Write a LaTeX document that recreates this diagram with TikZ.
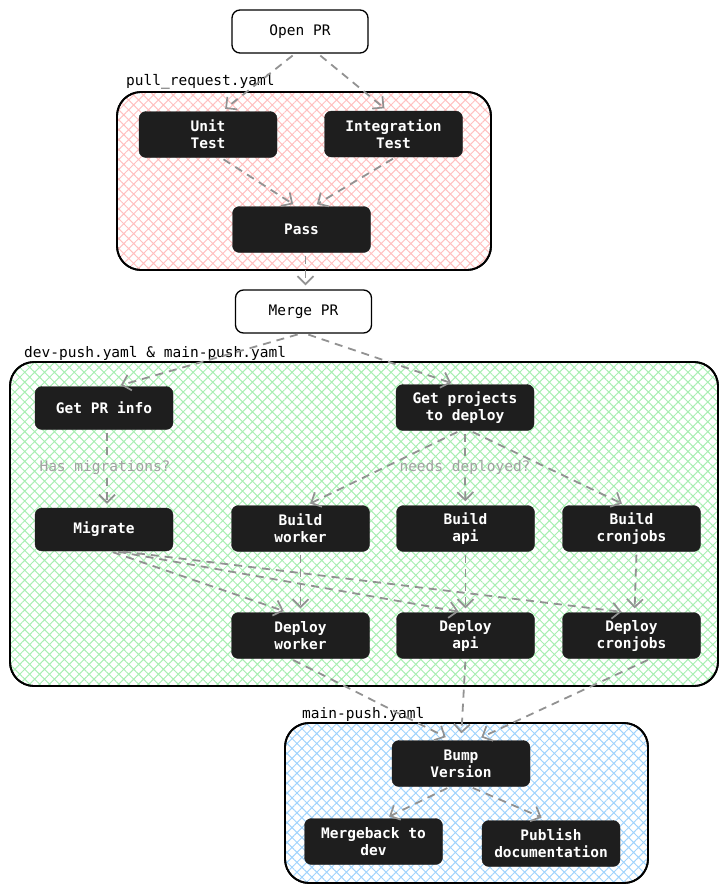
\documentclass[tikz,border=0pt]{standalone}
\usepackage{fontspec}
\setmonofont{DejaVu Sans Mono}
\usetikzlibrary{arrows.meta,patterns.meta}
\definecolor{nodebg}{HTML}{1E1E1E}
\definecolor{arrowc}{HTML}{929292}
\definecolor{pinkh}{HTML}{FFC0C0}
\definecolor{greenh}{HTML}{A8EEB2}
\definecolor{blueh}{HTML}{A0D3FC}
\tikzset{
  darkbox/.style={fill=nodebg, draw=nodebg, rounded corners=7pt, text=white,
    font=\ttfamily\bfseries\fontsize{14.5}{17}\selectfont, minimum width=138pt,
    minimum height=46pt, align=center, inner sep=0pt},
  lightbox/.style={fill=white, draw=black, line width=1.3pt, rounded corners=8pt,
    minimum width=136pt, minimum height=43pt, inner sep=0pt,
    font=\ttfamily\fontsize{14.5}{17}\selectfont},
  group/.style={draw=black, line width=1.8pt, rounded corners=24pt},
  hatch/.style={pattern={Hatch[angle=45,distance=7pt,line width=1pt]}},
  flow/.style={draw=arrowc, line width=1.8pt, dash pattern=on 8pt off 6pt,
    shorten <=3pt, shorten >=4pt,
    -{Straight Barb[length=8pt,width=16pt,line width=1.7pt]}},
  plain/.style={draw=arrowc, line width=1.8pt, dash pattern=on 8pt off 6pt, shorten <=3pt},
  grouplabel/.style={font=\ttfamily\fontsize{14.5}{17}\selectfont, anchor=base west, inner sep=0pt},
  edgelabel/.style={font=\ttfamily\fontsize{14.5}{17}\selectfont, text=arrowc!85, inner sep=3pt}
}
\begin{document}
\begin{tikzpicture}[x=1pt,y=-1pt]
\useasboundingbox (0,0) rectangle (726,892);

% groups
\path[group, hatch, pattern color=pinkh] (117,92) rectangle (491,270);
\draw[group] (117,92) rectangle (491,270);
\path[group, hatch, pattern color=greenh] (10,362) rectangle (718,686);
\draw[group] (10,362) rectangle (718,686);
\path[group, hatch, pattern color=blueh] (285,723) rectangle (648,883);
\draw[group] (285,723) rectangle (648,883);

\node[grouplabel] (lblpr) at (126,85) {pull\_request.yaml};
\node[grouplabel] (lbldev) at (24,357) {dev-push.yaml \& main-push.yaml};
\node[grouplabel] (lblmain) at (302,718) {main-push.yaml};

% nodes
\node[lightbox] (open) at (300,31.5) {Open PR};
\node[darkbox] (unit) at (208,134.5) {Unit\\Test};
\node[darkbox] (integ) at (393.5,134) {Integration\\Test};
\node[darkbox] (pass) at (301.5,229.5) {Pass};
\node[lightbox] (merge) at (303.5,311.5) {Merge PR};

\node[darkbox, minimum height=43pt] (gpi) at (104,408) {Get PR info};
\node[darkbox] (gpd) at (465,407.5) {Get projects\\to deploy};
\node[darkbox, minimum height=43pt] (mig) at (104,529.5) {Migrate};
\node[darkbox] (bw) at (300.5,528.5) {Build\\worker};
\node[darkbox] (ba) at (465.5,528.5) {Build\\api};
\node[darkbox] (bc) at (631.5,528.5) {Build\\cronjobs};
\node[darkbox] (dw) at (300.5,635.5) {Deploy\\worker};
\node[darkbox] (da) at (465.5,635.5) {Deploy\\api};
\node[darkbox] (dc) at (631.5,635.5) {Deploy\\cronjobs};

\node[darkbox] (bump) at (461,763.5) {Bump\\Version};
\node[darkbox] (mb) at (373.5,841.5) {Mergeback to\\dev};
\node[darkbox] (pub) at (551,843.5) {Publish\\documentation};

\node[edgelabel] (hm) at (105,468) {Has migrations?};
\node[edgelabel] (nd) at (465,467) {needs deployed?};

% connectors
\draw[flow] ([xshift=-5pt]open.south) -- ([xshift=14pt]unit.north);
\draw[flow] ([xshift=18pt]open.south) -- ([xshift=-6pt]integ.north);
\draw[flow] ([xshift=13pt]unit.south) -- ([xshift=-5pt]pass.north);
\draw[flow] ([xshift=2pt]integ.south) -- ([xshift=12pt]pass.north);
\draw[flow] ([xshift=4pt]pass.south) -- ([xshift=2pt]merge.north);
\draw[flow] ([xshift=-3pt]merge.south) -- ([xshift=13pt]gpi.north);
\draw[flow] ([xshift=2pt]merge.south) -- ([xshift=-10pt]gpd.north);

\draw[plain] ([xshift=3pt]gpi.south) -- ([xshift=2pt]hm.north);
\draw[flow, shorten <=0pt] ([xshift=2pt]hm.south) -- ([xshift=3pt]mig.north);
\draw[flow] ([xshift=-5pt]gpd.south) -- ([xshift=6pt]bw.north);
\draw[plain] (gpd.south) -- (nd.north);
\draw[flow, shorten <=0pt] (nd.south) -- (ba.north);
\draw[flow] ([xshift=5pt]gpd.south) -- ([xshift=-6pt]bc.north);

\draw[flow] (bw.south) -- (dw.north);
\draw[flow] (ba.south) -- (da.north);
\draw[flow] ([xshift=5pt]bc.south) -- ([xshift=3pt]dc.north);
\draw[flow] ([xshift=6pt]mig.south) -- ([xshift=-13pt]dw.north);
\draw[flow] ([xshift=11pt]mig.south) -- ([xshift=-3pt]da.north);
\draw[flow] ([xshift=16pt]mig.south) -- ([xshift=-6pt]dc.north);

\draw[flow, shorten >=7pt] ([xshift=-10pt]dw.south) -- ([xshift=-9pt]bump.north);
\draw[flow, shorten >=7pt] (da.south) -- (bump.north);
\draw[flow, shorten >=7pt] ([xshift=19pt]dc.south) -- ([xshift=14pt]bump.north);

\draw[flow] ([xshift=-11pt]bump.south) -- ([xshift=12pt]mb.north);
\draw[flow, shorten >=7pt] ([xshift=9pt]bump.south) -- ([xshift=-3pt]pub.north);
\end{tikzpicture}
\end{document}
